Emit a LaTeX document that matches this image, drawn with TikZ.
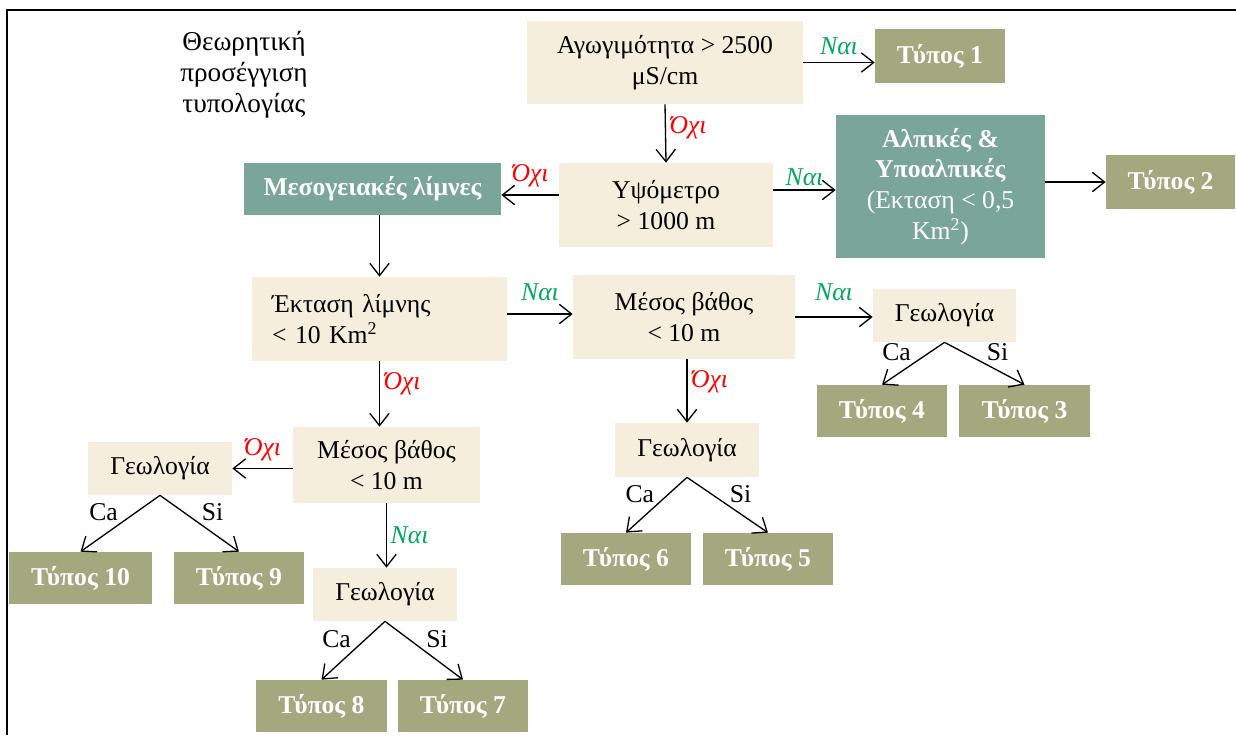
\documentclass[tikz,border=0pt]{standalone}
\usepackage{fontspec}
\setmainfont{Liberation Serif}
\usetikzlibrary{arrows.meta,positioning}
\definecolor{condbeige}{RGB}{245,238,221}
\definecolor{groupteal}{RGB}{122,166,153}
\definecolor{typeolive}{RGB}{164,168,127}
\definecolor{yesgreen}{RGB}{0,168,96}
\definecolor{nored}{RGB}{255,0,0}
\newcommand{\boxfont}{\fontsize{14.6}{17.5}\selectfont}

\begin{document}
\begin{tikzpicture}[x=0.02cm, y=-0.02cm, >={Straight Barb[length=7pt,width=11pt]},
  every node/.style={font=\boxfont},
  cond/.style={fill=condbeige, align=center, inner sep=0pt},
  group/.style={fill=groupteal, text=white, align=center, inner sep=0pt},
  typebox/.style={fill=typeolive, text=white, font=\boxfont\bfseries, inner sep=0pt, minimum width=2.6cm, minimum height=1.04cm},
  yeslabel/.style={text=yesgreen, font=\boxfont\itshape, inner sep=2pt},
  nolabel/.style={text=nored, font=\boxfont\itshape, inner sep=2pt},
  branch/.style={inner sep=1pt},
  flow/.style={->, line width=0.75pt}]
  \useasboundingbox (0,0) rectangle (1236,735);

  % Frame
  \draw[line width=1.2pt] (7,735) -- (7,10) -- (1236,10);

  % Title
  \node[align=center, font=\fontsize{15.5}{17.5}\selectfont] (title) at (244,75) {Θεωρητική\\προσέγγιση\\τυπολογίας};

  % Conductivity and altitude
  \node[cond, minimum width=5.52cm, minimum height=1.66cm] (cond) at (665,62.5) {Αγωγιμότητα > 2500\\μS/cm};
  \node[typebox, minimum height=1.08cm] (type1) at (940,56) {Τύπος 1};
  \node[cond, minimum width=4.28cm, minimum height=1.68cm] (alt) at (666,205) {Υψόμετρο\\> 1000 m};
  \node[group, font=\boxfont\bfseries, minimum width=5.14cm, minimum height=1.04cm] (medit) at (372.5,189) {Μεσογειακές λίμνες};
  \node[group, minimum width=4.18cm, minimum height=2.86cm] (alpine) at (940.5,186.5) {\textbf{Αλπικές \&}\\\textbf{Υποαλπικές}\\(Εκταση < 0,5\\Km\textsuperscript{2})};
  \node[typebox, minimum width=2.58cm, minimum height=1.08cm] (type2) at (1170.5,182) {Τύπος 2};

  % Lake area and depth
  \node[cond, align=left, text width=4.3cm, inner xsep=0.4cm, minimum height=1.68cm] (area) at (379.5,319) {Έκταση λίμνης\\< 10 Km\textsuperscript{2}};
  \node[cond, minimum width=4.44cm, minimum height=1.68cm] (depthA) at (684,317) {Μέσος βάθος\\< 10 m};
  \node[cond, minimum width=3.74cm, minimum height=1.52cm] (depthB) at (386.5,465) {Μέσος βάθος\\< 10 m};

  % Geology
  \node[cond, minimum width=2.86cm, minimum height=1.06cm] (geoA) at (944.5,315.5) {Γεωλογία};
  \node[cond, minimum width=2.88cm, minimum height=1.08cm] (geoB) at (687,450) {Γεωλογία};
  \node[cond, minimum width=2.88cm, minimum height=1.06cm] (geoC) at (160,468.5) {Γεωλογία};
  \node[cond, minimum width=2.88cm, minimum height=1.06cm] (geoD) at (385,594.5) {Γεωλογία};

  % Types
  \node[typebox] (type4) at (882,411) {Τύπος 4};
  \node[typebox, minimum width=2.62cm] (type3) at (1024.5,411) {Τύπος 3};
  \node[typebox] (type6) at (626,559) {Τύπος 6};
  \node[typebox] (type5) at (768,559) {Τύπος 5};
  \node[typebox, minimum width=2.86cm] (type10) at (80.5,578) {Τύπος 10};
  \node[typebox] (type9) at (239,578) {Τύπος 9};
  \node[typebox, minimum width=2.62cm] (type8) at (321.5,706) {Τύπος 8};
  \node[typebox] (type7) at (463,706) {Τύπος 7};

  % Decisions
  \draw[flow] (cond.east) -- (cond.east -| type1.west) node[midway, above=2pt, yeslabel] {Ναι};
  \draw[flow] (cond.south) -- (alt.north) node[pos=0.4, right, nolabel] {Όχι};
  \draw[flow] ([yshift=0.2cm]alt.west) -- ([yshift=0.2cm]alt.west -| medit.east) node[midway, above=2pt, nolabel] {Όχι};
  \draw[flow] ([yshift=0.3cm]alt.east) -- ([yshift=0.3cm]alt.east -| alpine.west) node[midway, above, yeslabel] {Ναι};
  \draw[flow] (type2.west -| alpine.east) -- (type2.west);
  \draw[flow] (area.north |- medit.south) -- (area.north);
  \draw[flow] ([yshift=0.1cm]area.east) -- ([yshift=0.1cm]area.east -| depthA.west) node[midway, above=5pt, yeslabel] {Ναι};
  \draw[flow] (depthA.east) -- (depthA.east -| geoA.west) node[midway, above=7pt, yeslabel] {Ναι};
  \draw[flow] (geoB.north |- depthA.south) -- (geoB.north) node[pos=0.35, right, nolabel] {Όχι};
  \draw[flow] (area.south) -- (area.south |- depthB.north) node[pos=0.35, right, nolabel] {Όχι};
  \draw[flow] (depthB.west |- geoC.east) -- (geoC.east) node[midway, above=2pt, nolabel] {Όχι};
  \draw[flow] (depthB.south) -- (depthB.south |- geoD.north) node[midway, right, yeslabel] {Ναι};

  % Ca / Si branches
  \foreach \geo/\ca/\si in {geoA/type4/type3, geoB/type6/type5, geoC/type10/type9, geoD/type8/type7} {
    \draw[flow] (\geo.south) -- (\ca.north) node[midway, above left, branch] {Ca};
    \draw[flow] (\geo.south) -- (\si.north) node[midway, above right, branch] {Si};
  }
\end{tikzpicture}
\end{document}
